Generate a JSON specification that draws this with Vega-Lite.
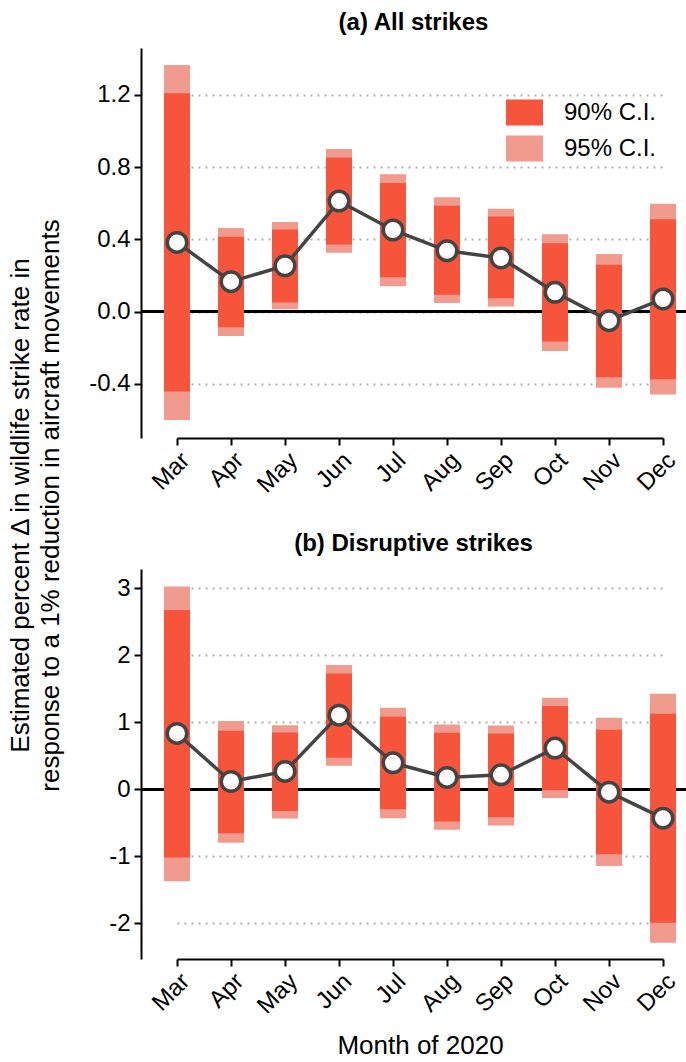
{
  "$schema": "https://vega.github.io/schema/vega-lite/v6.json",
  "autosize": {"type": "pad"},
  "padding": {"left": 7, "top": 11, "right": 0, "bottom": 0},
  "background": "white",
  "bounds": "flush",
  "spacing": 131,
  "datasets": {
    "a": [
      {"month": "Mar", "lo95": -0.600, "lo90": -0.442, "est": 0.383, "hi90": 1.209, "hi95": 1.366},
      {"month": "Apr", "lo95": -0.135, "lo90": -0.087, "est": 0.166, "hi90": 0.415, "hi95": 0.463},
      {"month": "May", "lo95": 0.013, "lo90": 0.050, "est": 0.254, "hi90": 0.455, "hi95": 0.496},
      {"month": "Jun", "lo95": 0.326, "lo90": 0.372, "est": 0.612, "hi90": 0.853, "hi95": 0.900},
      {"month": "Jul", "lo95": 0.140, "lo90": 0.190, "est": 0.452, "hi90": 0.712, "hi95": 0.761},
      {"month": "Aug", "lo95": 0.048, "lo90": 0.094, "est": 0.337, "hi90": 0.586, "hi95": 0.634},
      {"month": "Sep", "lo95": 0.029, "lo90": 0.074, "est": 0.297, "hi90": 0.527, "hi95": 0.570},
      {"month": "Oct", "lo95": -0.218, "lo90": -0.166, "est": 0.107, "hi90": 0.378, "hi95": 0.429},
      {"month": "Nov", "lo95": -0.422, "lo90": -0.363, "est": -0.050, "hi90": 0.260, "hi95": 0.319},
      {"month": "Dec", "lo95": -0.459, "lo90": -0.374, "est": 0.070, "hi90": 0.512, "hi95": 0.597}
    ],
    "b": [
      {"month": "Mar", "lo95": -1.368, "lo90": -1.015, "est": 0.836, "hi90": 2.680, "hi95": 3.030},
      {"month": "Apr", "lo95": -0.796, "lo90": -0.652, "est": 0.119, "hi90": 0.876, "hi95": 1.020},
      {"month": "May", "lo95": -0.433, "lo90": -0.323, "est": 0.269, "hi90": 0.851, "hi95": 0.960},
      {"month": "Jun", "lo95": 0.353, "lo90": 0.473, "est": 1.109, "hi90": 1.731, "hi95": 1.856},
      {"month": "Jul", "lo95": -0.428, "lo90": -0.294, "est": 0.398, "hi90": 1.085, "hi95": 1.219},
      {"month": "Aug", "lo95": -0.602, "lo90": -0.478, "est": 0.179, "hi90": 0.846, "hi95": 0.970},
      {"month": "Sep", "lo95": -0.537, "lo90": -0.413, "est": 0.219, "hi90": 0.836, "hi95": 0.955},
      {"month": "Oct", "lo95": -0.129, "lo90": -0.010, "est": 0.617, "hi90": 1.244, "hi95": 1.368},
      {"month": "Nov", "lo95": -1.144, "lo90": -0.965, "est": -0.040, "hi90": 0.891, "hi95": 1.070},
      {"month": "Dec", "lo95": -2.289, "lo90": -1.990, "est": -0.428, "hi90": 1.129, "hi95": 1.428}
    ]
  },
  "resolve": {"scale": {"color": "independent"}, "legend": {"color": "independent"}},
  "vconcat": [
    {
      "width": 545,
      "height": 390,
      "title": {"text": "(a) All strikes", "fontSize": 24, "fontWeight": "bold", "font": "Liberation Sans", "color": "black", "anchor": "middle", "offset": 13},
      "data": {"name": "a"},
      "encoding": {
        "x": {
          "field": "month", "type": "ordinal",
          "sort": ["Mar", "Apr", "May", "Jun", "Jul", "Aug", "Sep", "Oct", "Nov", "Dec"],
          "scale": {"type": "point", "range": [36, 522], "padding": 0},
          "axis": {"title": null}
        }
      },
      "layer": [
        {
          "mark": {"type": "rule", "color": "black", "strokeWidth": 2},
          "encoding": {"y": {"datum": 0, "type": "quantitative"}, "x": null}
        },
        {
          "mark": {"type": "bar", "width": 26},
          "encoding": {
            "y": {
              "field": "lo95", "type": "quantitative",
              "scale": {"domain": [-0.70, 1.46], "nice": false, "zero": false},
              "axis": {
                "values": [-0.4, 0, 0.4, 0.8, 1.2],
                "labelExpr": "replace(format(datum.value, '.1f'), '\u2212', '-')",
                "title": ["Estimated percent \u0394 in wildlife strike rate in", "response to a 1% reduction in aircraft movements"],
                "titleX": -134,
                "titleY": 457,
                "titleAngle": -90,
                "titleAlign": "center",
                "titleBaseline": "top",
                "titleAnchor": null,
                "titleLineHeight": 30
              }
            },
            "y2": {"field": "hi95"},
            "color": {
              "datum": "95% C.I.",
              "scale": {"domain": ["90% C.I.", "95% C.I."], "range": ["#f6543b", "#f19a8e"]},
              "legend": {
                "title": null,
                "orient": "none",
                "legendX": 365,
                "legendY": 46,
                "symbolType": "M-1,-0.7L1,-0.7L1,0.7L-1,0.7Z",
                "symbolSize": 1369,
                "symbolStrokeWidth": 0,
                "symbolOpacity": 1,
                "labelFontSize": 24,
                "labelFont": "Liberation Sans",
                "labelColor": "black",
                "labelOffset": 21,
                "rowPadding": 4
              }
            }
          }
        },
        {
          "mark": {"type": "bar", "width": 26},
          "encoding": {
            "y": {"field": "lo90", "type": "quantitative"},
            "y2": {"field": "hi90"},
            "color": {"datum": "90% C.I."}
          }
        },
        {
          "mark": {"type": "line", "color": "#444444", "strokeWidth": 3.5},
          "encoding": {"y": {"field": "est", "type": "quantitative"}}
        },
        {
          "mark": {"type": "point", "shape": "circle", "filled": true, "fill": "white", "stroke": "#444444", "strokeWidth": 3.5, "size": 380, "opacity": 1},
          "encoding": {"y": {"field": "est", "type": "quantitative"}}
        }
      ]
    },
    {
      "width": 545,
      "height": 390,
      "title": {"text": "(b) Disruptive strikes", "fontSize": 24, "fontWeight": "bold", "font": "Liberation Sans", "color": "black", "anchor": "middle", "offset": 13},
      "data": {"name": "b"},
      "encoding": {
        "x": {
          "field": "month", "type": "ordinal",
          "sort": ["Mar", "Apr", "May", "Jun", "Jul", "Aug", "Sep", "Oct", "Nov", "Dec"],
          "scale": {"type": "point", "range": [36, 522], "padding": 0},
          "axis": {"title": "Month of 2020"}
        }
      },
      "layer": [
        {
          "mark": {"type": "rule", "color": "black", "strokeWidth": 2},
          "encoding": {"y": {"datum": 0, "type": "quantitative"}, "x": null}
        },
        {
          "mark": {"type": "bar", "width": 26},
          "encoding": {
            "y": {
              "field": "lo95", "type": "quantitative",
              "scale": {"domain": [-2.53, 3.29], "nice": false, "zero": false},
              "axis": {
                "values": [-2, -1, 0, 1, 2, 3],
                "labelExpr": "replace(format(datum.value, 'd'), '\u2212', '-')",
                "title": null
              }
            },
            "y2": {"field": "hi95"},
            "color": {
              "datum": "95% C.I.",
              "scale": {"domain": ["90% C.I.", "95% C.I."], "range": ["#f6543b", "#f19a8e"]},
              "legend": null
            }
          }
        },
        {
          "mark": {"type": "bar", "width": 26},
          "encoding": {
            "y": {"field": "lo90", "type": "quantitative"},
            "y2": {"field": "hi90"},
            "color": {"datum": "90% C.I."}
          }
        },
        {
          "mark": {"type": "line", "color": "#444444", "strokeWidth": 3.5},
          "encoding": {"y": {"field": "est", "type": "quantitative"}}
        },
        {
          "mark": {"type": "point", "shape": "circle", "filled": true, "fill": "white", "stroke": "#444444", "strokeWidth": 3.5, "size": 380, "opacity": 1},
          "encoding": {"y": {"field": "est", "type": "quantitative"}}
        }
      ]
    }
  ],
  "config": {
    "font": "Liberation Sans",
    "view": {"stroke": null},
    "axis": {
      "domainColor": "black",
      "domainWidth": 2,
      "tickColor": "black",
      "tickWidth": 2,
      "tickSize": 7,
      "labelColor": "black",
      "labelFont": "Liberation Sans",
      "labelFontSize": 24,
      "labelPadding": 4,
      "titleColor": "black",
      "titleFont": "Liberation Sans",
      "titleFontSize": 26,
      "titleFontWeight": "normal"
    },
    "axisX": {
      "grid": false,
      "labelAngle": -45,
      "labelAlign": "right",
      "labelBaseline": "top",
      "labelPadding": 3,
      "titlePadding": 14
    },
    "axisY": {
      "grid": true,
      "gridColor": "#b0b0b0",
      "gridDash": [2, 5],
      "gridWidth": 2.2
    }
  }
}
